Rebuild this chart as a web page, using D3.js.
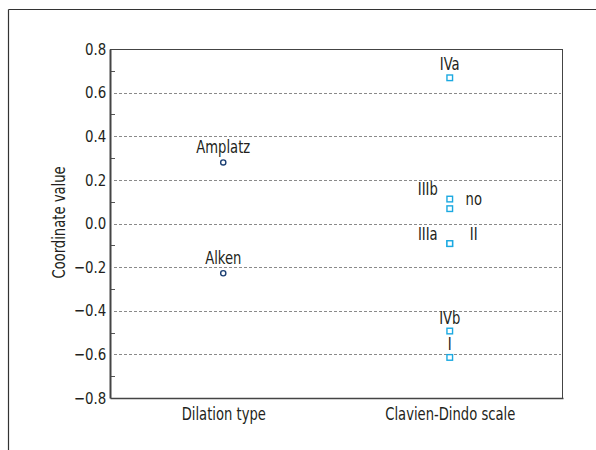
<!DOCTYPE html>
<html>
<head>
<meta charset="utf-8">
<script src="https://cdn.jsdelivr.net/npm/d3@7"></script>
<style>
  html, body { margin: 0; padding: 0; background: #fff; }
  svg { display: block; }
  text { font-family: "DejaVu Sans Condensed", "Liberation Sans Narrow", sans-serif; fill: #231f20; }
</style>
</head>
<body>
<svg id="chart" width="596" height="450"></svg>
<script>
// ---- data ----
const categories = ["Dilation type", "Clavien-Dindo scale"];
const dilationLabels = ["Amplatz", "Alken"];
const dilationValues = [0.28, -0.228];
const clavienLabels = ["IVa", "IIIb", "no", "IIIa", "II", "IVb", "I"];
const clavienValues = [0.668, 0.112, 0.068, -0.092, -0.092, -0.493, -0.614];
const clavienLabelSide = ["top", "left", "right", "left", "right", "top", "top"];
const yTicks = [-0.8, -0.6, -0.4, -0.2, 0.0, 0.2, 0.4, 0.6, 0.8];
const yMinorTicks = [-0.7, -0.5, -0.3, -0.1, 0.1, 0.3, 0.5, 0.7];
const yTitle = "Coordinate value";

// ---- layout ----
const svg = d3.select("#chart");
const W = 596, H = 450;
const m = { left: 110, top: 49, right: 33, bottom: 52 };
const pw = W - m.left - m.right, ph = H - m.top - m.bottom;
const FS = "17px";
const SX = 0.86; // horizontal condensing to mimic a condensed face

// outer frame (top + left)
svg.append("line").attr("x1", 8.5).attr("x2", W).attr("y1", 9.5).attr("y2", 9.5)
  .attr("stroke", "#333").attr("stroke-width", 1.2);
svg.append("line").attr("x1", 8.5).attr("x2", 8.5).attr("y1", 9.5).attr("y2", H)
  .attr("stroke", "#333").attr("stroke-width", 1.2);

const g = svg.append("g").attr("transform", `translate(${m.left},${m.top})`);

const x = d3.scalePoint().domain(categories).range([0, pw]).padding(0.5);
const y = d3.scaleLinear().domain([-0.8, 0.8]).range([ph, 0]);

function label(parent, px, py, txt, extra) {
  return parent.append("text")
    .attr("transform", `translate(${px},${py}) ${extra || ""} scale(${SX},1)`)
    .attr("text-anchor", "middle").style("font-size", FS).text(txt);
}

// gridlines
g.append("g").selectAll("line").data(yTicks.filter(t => Math.abs(t) < 0.8)).join("line")
  .attr("x1", 4).attr("x2", pw - 2)
  .attr("y1", d => Math.round(y(d)) + 0.5).attr("y2", d => Math.round(y(d)) + 0.5)
  .attr("stroke", "#8a8a8a").attr("stroke-width", 1).attr("stroke-dasharray", "3,2");

// plot frame top/right (thin)
g.append("line").attr("x1", 0).attr("x2", pw).attr("y1", 0.5).attr("y2", 0.5)
  .attr("stroke", "#444").attr("stroke-width", 1);
g.append("line").attr("x1", pw - 0.5).attr("x2", pw - 0.5).attr("y1", 0).attr("y2", ph)
  .attr("stroke", "#444").attr("stroke-width", 1);

// minor ticks
g.append("g").selectAll("line").data(yMinorTicks).join("line")
  .attr("x1", 0).attr("x2", 5)
  .attr("y1", d => Math.round(y(d)) + 0.5).attr("y2", d => Math.round(y(d)) + 0.5)
  .attr("stroke", "#555").attr("stroke-width", 1);

// y axis
const yAxis = d3.axisLeft(y).tickValues(yTicks).tickSize(0).tickPadding(4)
  .tickFormat(d => d3.format(".1f")(d).replace("-", "\u2212"));
const ya = g.append("g").call(yAxis);
ya.select(".domain").attr("stroke", "#444").attr("stroke-width", 2);
ya.selectAll("text").style("font-size", "16px").attr("fill", "#231f20")
  .style("font-family", "\"DejaVu Sans Condensed\", sans-serif")
  .attr("transform", "scale(0.93,1)");

// x axis
const xAxis = d3.axisBottom(x).tickSize(0).tickPadding(10);
const xa = g.append("g").attr("transform", `translate(0,${ph})`).call(xAxis);
xa.select(".domain").attr("stroke", "#444").attr("stroke-width", 1.6);
xa.selectAll("text").style("font-size", FS).attr("fill", "#231f20")
  .style("font-family", "\"DejaVu Sans Condensed\", sans-serif")
  .attr("transform", `scale(${SX},1)`);

// y title
label(g, -45.5, ph / 2 - 1, yTitle, "rotate(-90)");

// dilation points
const xd = x(categories[0]);
g.selectAll(".dp").data(dilationValues).join("circle").attr("class", "dp")
  .attr("cx", xd).attr("cy", d => y(d)).attr("r", 2.6)
  .attr("fill", "#fff").attr("stroke", "#1b3f73").attr("stroke-width", 1.4);
dilationValues.forEach((v, i) => label(g, xd, y(v) - 9.5, dilationLabels[i]));

// clavien points
const xc = x(categories[1]);
g.selectAll(".cp").data(clavienValues).join("rect").attr("class", "cp")
  .attr("x", xc - 2.8).attr("y", d => y(d) - 2.8).attr("width", 5.6).attr("height", 5.6)
  .attr("fill", "#fff").attr("stroke", "#1ba9e1").attr("stroke-width", 1.4);
clavienValues.forEach((v, i) => {
  const side = clavienLabelSide[i];
  const dx = side === "left" ? -22 : side === "right" ? 24 : 0;
  const dy = side === "top" ? -7.5 : -4;
  label(g, xc + dx, y(v) + dy, clavienLabels[i]);
});
</script>
</body>
</html>
